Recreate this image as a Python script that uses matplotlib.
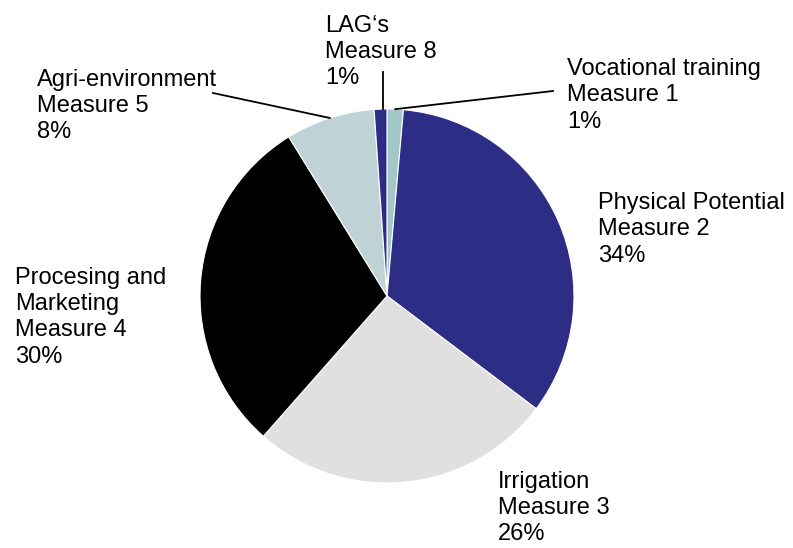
import matplotlib.pyplot as plt
import numpy as np

plt.rcParams['font.family'] = ['Liberation Sans', 'DejaVu Sans']

names = ["Vocational training\nMeasure 1", "Physical Potential\nMeasure 2",
         "Irrigation\nMeasure 3", "Procesing and\nMarketing\nMeasure 4",
         "Agri-environment\nMeasure 5", "LAG\u2018s\nMeasure 8"]
values = [1.4, 33.9, 26.2, 29.7, 7.7, 1.1]
colors = ["#a3c6c8", "#2e2d86", "#e0e0e0", "#000000", "#bfd3d6", "#2e2d86"]

W, H = 793, 548
cx, cy, R = 387, 296, 187  # pie centre and radius in pixels


def px(x, y):
    # pixel position (from top-left) -> data coords
    return (x - cx) / R, (cy - y) / R


fig = plt.figure(figsize=(W / 100, H / 100), dpi=100)
ax = fig.add_axes([0, 0, 1, 1])
wedges, _ = ax.pie(values, colors=colors, startangle=90, counterclock=False,
                   radius=1, wedgeprops=dict(edgecolor="white", linewidth=0.8))
ax.set_xlim(-cx / R, (W - cx) / R)
ax.set_ylim(-(H - cy) / R, cy / R)
ax.set_aspect("equal")
ax.axis("off")

# label positions (left, top) in pixels, and leader line ends
label_pos = [(567, 58), (598, 192), (498, 471), (15, 267), (37, 69), (325, 15)]
leader_end = [(553, 91), None, None, None, (213, 93), (383, 72)]

for w, name, v, (lx, ly), le in zip(wedges, names, values, label_pos, leader_end):
    tx, ty = px(lx, ly)
    ax.text(tx, ty, f"{name}\n{round(v)}%", ha="left", va="top",
            fontsize=17, linespacing=1.25, color="black")
    if le is not None:
        ang = np.deg2rad((w.theta1 + w.theta2) / 2)
        ex, ey = px(*le)
        sx, sy = np.cos(ang), np.sin(ang)
        if le == (383, 72):
            sx = ex  # vertical tick for the narrow LAG slice
        ax.plot([sx, ex], [sy, ey], color="black", lw=1.3)

fig.savefig("out.png", dpi=100)
